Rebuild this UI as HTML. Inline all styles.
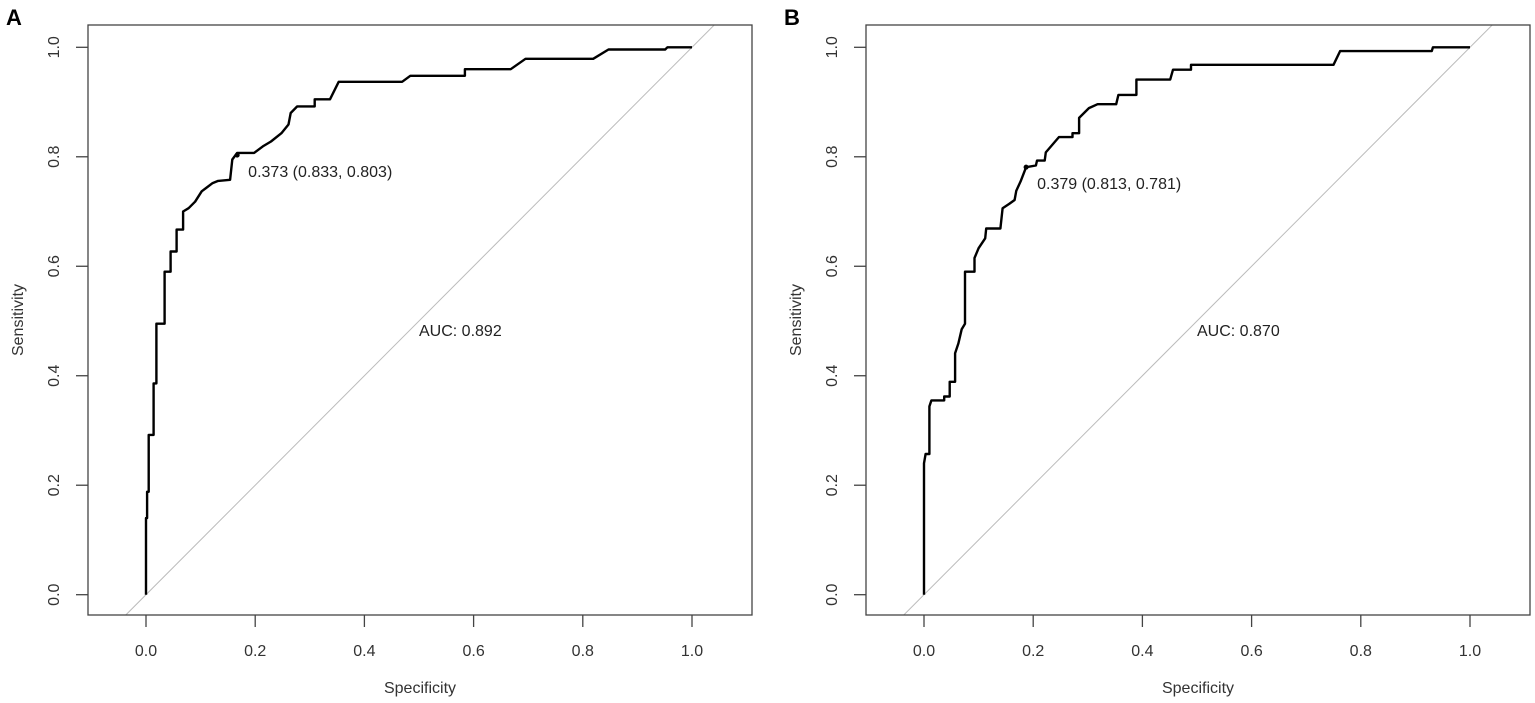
<!DOCTYPE html>
<html><head><meta charset="utf-8"><style>
html,body{margin:0;padding:0;background:#fff;}
svg{display:block;font-family:"Liberation Sans",Arial,sans-serif;}
</style></head><body>
<svg id="chart" width="1535" height="703" viewBox="0 0 1535 703"></svg>
<script>
const ticks=[0,0.2,0.4,0.6,0.8,1.0];
const tickLabels=["0.0","0.2","0.4","0.6","0.8","1.0"];
const rocAx=[0,0,0.002,0.002,0.005,0.005,0.014,0.014,0.019,0.019,0.034,0.034,0.045,0.045,0.056,0.056,0.068,0.068,0.078,0.090,0.102,0.110,0.122,0.132,0.154,0.158,0.167,0.198,0.214,0.229,0.248,0.261,0.265,0.277,0.309,0.309,0.337,0.353,0.469,0.484,0.584,0.584,0.668,0.695,0.819,0.847,0.951,0.955,1.0];
const rocAy=[0,0.14,0.14,0.188,0.188,0.292,0.292,0.386,0.386,0.495,0.495,0.59,0.59,0.627,0.627,0.667,0.667,0.70,0.706,0.718,0.737,0.743,0.752,0.756,0.758,0.795,0.807,0.807,0.819,0.828,0.843,0.859,0.880,0.892,0.892,0.905,0.905,0.937,0.937,0.948,0.948,0.960,0.960,0.979,0.979,0.996,0.996,1.0,1.0];
const rocBx=[0,0,0.003,0.0098,0.0098,0.0135,0.037,0.037,0.047,0.047,0.057,0.057,0.063,0.069,0.075,0.075,0.0925,0.0925,0.100,0.112,0.114,0.140,0.144,0.156,0.166,0.169,0.177,0.187,0.205,0.207,0.221,0.223,0.247,0.272,0.272,0.284,0.284,0.293,0.302,0.318,0.352,0.356,0.389,0.389,0.451,0.456,0.489,0.489,0.750,0.762,0.930,0.932,1.0];
const rocBy=[0,0.240,0.257,0.257,0.344,0.355,0.355,0.362,0.362,0.389,0.389,0.441,0.459,0.485,0.495,0.59,0.59,0.615,0.633,0.651,0.669,0.669,0.706,0.714,0.721,0.738,0.755,0.781,0.784,0.793,0.793,0.808,0.836,0.836,0.843,0.843,0.871,0.880,0.889,0.896,0.896,0.913,0.913,0.941,0.941,0.959,0.959,0.968,0.968,0.993,0.993,1.0,1.0];
const bestA=[0.167,0.803], bestB=[0.187,0.781];
const labelsBest=["0.373 (0.833, 0.803)","0.379 (0.813, 0.781)"];
const aucLabels=["AUC: 0.892","AUC: 0.870"];

const NS="http://www.w3.org/2000/svg";
const svg=document.getElementById('chart');
function mk(tag,attrs,parent,text){const e=document.createElementNS(NS,tag);for(const k in attrs)e.setAttribute(k,attrs[k]);if(text!==undefined)e.textContent=text;(parent||svg).appendChild(e);return e;}

function panel(letter,off,xs,ys,best,bestLabel,auc){
  const g=mk('g',{});
  
  
  const x0=146+off, s=546, y0=594.7, sy=547.4;
  const X=v=>x0+v*s, Y=v=>y0-v*sy;
  const L=88+off, R=752+off, T=25, B=615;
  const pl=mk('text',{x:6+off,y:25,'font-size':22,'font-weight':'bold',fill:'#000'},g,letter);
  
  
  const cp=mk('clipPath',{id:'clip'+letter},g);
  mk('rect',{x:L,y:T,width:R-L,height:B-T},cp);
  const d=mk('line',{x1:X(-0.05),y1:Y(-0.05),x2:X(1.06),y2:Y(1.06),stroke:'#bbb','stroke-width':1,'clip-path':'url(#clip'+letter+')'},g);
  
  
  const box=mk('rect',{x:L,y:T,width:R-L,height:B-T,fill:'none',stroke:'#444','stroke-width':1.3},g);
  
  
  ticks.forEach((t,i)=>{
    mk('line',{x1:X(t),y1:B,x2:X(t),y2:B+12,stroke:'#444','stroke-width':1.3},g);
    const tx=mk('text',{x:X(t),y:656,'font-size':16,fill:'#333','text-anchor':'middle'},g,tickLabels[i]);
    
    
    mk('line',{x1:L-12,y1:Y(t),x2:L,y2:Y(t),stroke:'#444','stroke-width':1.3},g);
    const ty=mk('text',{x:0,y:0,'font-size':16,fill:'#333','text-anchor':'middle',transform:`translate(${59+off},${Y(t)}) rotate(-90)`},g,tickLabels[i]);
    
    
  });
  const xt=mk('text',{x:(L+R)/2,y:693,'font-size':16,fill:'#333','text-anchor':'middle'},g,'Specificity');
  
  
  const yt=mk('text',{x:0,y:0,'font-size':16,fill:'#333','text-anchor':'middle',transform:`translate(${23+off},320) rotate(-90)`},g,'Sensitivity');
  
  
  const pts=xs.map((v,i)=>X(v).toFixed(1)+','+Y(ys[i]).toFixed(1)).join(' ');
  const c=mk('polyline',{points:pts,fill:'none',stroke:'#000','stroke-width':2.4,'stroke-linejoin':'round'},g);
  
  
  const p=mk('circle',{cx:X(best[0]),cy:Y(best[1]),r:2.5,fill:'#000'},g);
  
  
  const bl=mk('text',{x:X(best[0])+11,y:Y(best[1])+22,'font-size':16,fill:'#222'},g,bestLabel);
  
  
  const al=mk('text',{x:X(0.5),y:336,'font-size':16,fill:'#222'},g,auc);
  
  
}
panel('A',0,rocAx,rocAy,bestA,labelsBest[0],aucLabels[0]);
panel('B',778,rocBx,rocBy,bestB,labelsBest[1],aucLabels[1]);
</script>
</body></html>
